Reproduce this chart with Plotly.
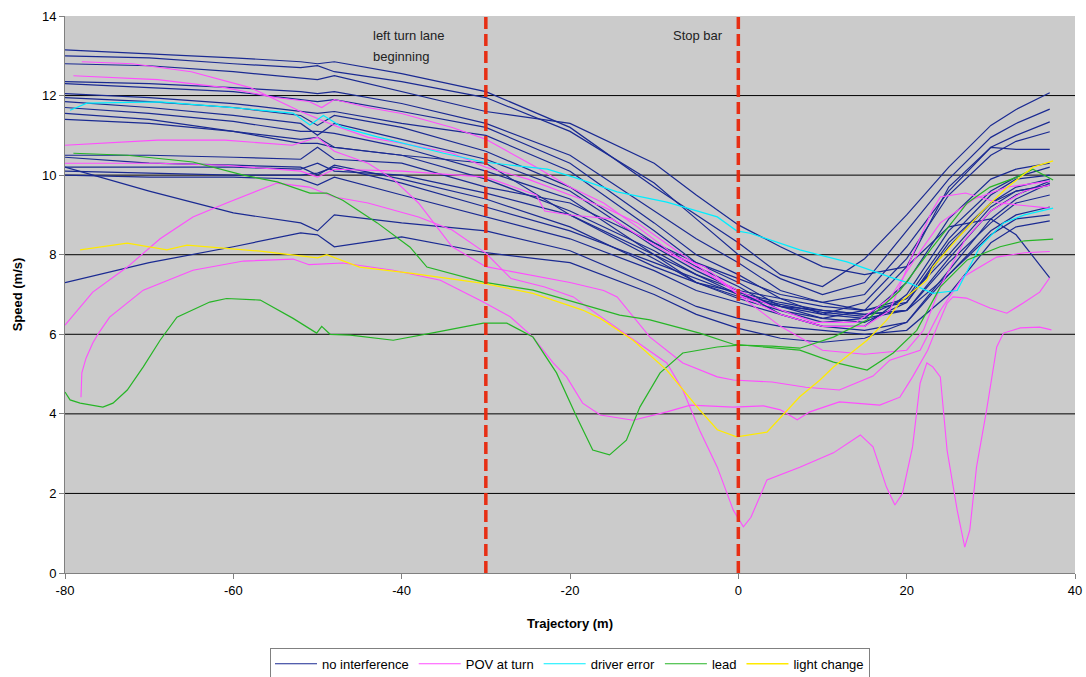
import plotly.graph_objects as go

# ---------------- data ----------------
XN = [-80, -70, -60, -52, -50, -48, -40, -30, -20, -10, -5, 0, 5, 10, 15, 20, 25, 30, 33, 37]

nav_01 = [13.15, 13.05, 12.95, 12.85, 12.8, 12.85, 12.55, 12.1, 11.2, 9.7, 9.0, 8.3, 7.5, 7.2, 7.9, 9.0, 10.2, 11.25, 11.65, 12.07]
nav_02 = [13.0, 12.95, 12.8, 12.7, 12.75, 12.6, 12.35, 11.95, 11.1, 9.8, 8.9, 8.0, 7.4, 7.0, 7.3, 8.6, 9.9, 10.95, 11.3, 11.66]
nav_03 = [12.8, 12.75, 12.6, 12.45, 12.4, 12.5, 12.1, 11.6, 11.3, 10.3, 9.5, 8.75, 8.2, 7.7, 7.5, 7.7, 8.7, 8.9, 8.5, 7.42]
nav_04 = [12.35, 12.3, 12.2, 12.1, 12.05, 12.1, 11.8, 11.3, 10.5, 9.1, 8.4, 7.8, 7.1, 6.8, 7.0, 8.2, 9.6, 10.7, 11.0, 11.34]
nav_05 = [12.3, 12.2, 12.1, 11.9, 11.85, 11.9, 11.6, 11.2, 10.3, 8.8, 8.0, 7.5, 6.9, 6.5, 6.8, 7.9, 9.5, 10.5, 10.85, 11.09]
nav_06 = [12.05, 11.95, 11.8, 11.6, 11.55, 11.6, 11.3, 11.0, 10.1, 8.6, 7.8, 7.3, 6.7, 6.4, 6.6, 7.7, 9.7, 10.7, 10.65, 10.65]
nav_07 = [11.95, 11.85, 11.7, 11.5, 11.25, 11.5, 11.2, 10.6, 9.7, 8.3, 7.7, 7.2, 6.6, 6.3, 6.4, 7.3, 8.9, 9.9, 10.15, 10.3]
nav_08 = [11.85, 11.7, 11.5, 11.3, 11.0, 11.3, 10.9, 10.4, 9.6, 8.2, 7.6, 7.1, 6.5, 6.2, 6.2, 7.0, 8.6, 9.6, 9.95, 10.2]
nav_09 = [11.7, 11.55, 11.35, 11.1, 11.1, 11.05, 10.7, 10.1, 9.4, 8.0, 7.3, 6.9, 6.6, 6.4, 6.3, 6.8, 8.2, 9.3, 9.7, 9.9]
nav_10 = [11.55, 11.4, 11.1, 10.8, 10.8, 10.7, 10.5, 10.3, 9.0, 7.9, 7.3, 6.95, 6.7, 6.5, 6.4, 6.6, 7.9, 9.1, 9.5, 9.85]
nav_11 = [11.4, 11.3, 11.1, 10.9, 10.95, 10.7, 10.5, 9.9, 9.1, 8.1, 7.5, 7.0, 6.75, 6.55, 6.45, 6.9, 8.4, 9.5, 9.9, 10.0]
nav_12 = [10.5, 10.5, 10.45, 10.4, 10.7, 10.4, 10.3, 9.7, 9.3, 8.3, 7.8, 7.4, 7.0, 6.8, 6.6, 6.9, 8.0, 9.2, 9.6, 9.75]
nav_13 = [10.45, 10.3, 10.25, 10.2, 10.0, 10.25, 9.9, 9.4, 8.7, 7.7, 7.3, 7.05, 6.8, 6.6, 6.5, 6.6, 7.5, 8.5, 8.9, 9.0]
nav_14 = [10.2, 10.2, 10.2, 10.15, 10.3, 10.1, 10.0, 9.55, 9.0, 8.0, 7.5, 7.1, 6.9, 6.7, 6.6, 6.8, 8.3, 9.3, 9.6, 9.75]
nav_15 = [10.1, 10.05, 10.0, 10.0, 10.05, 10.2, 9.8, 9.2, 8.6, 7.8, 7.4, 7.0, 6.7, 6.6, 6.5, 6.6, 7.8, 8.8, 9.3, 9.5]
nav_16 = [10.0, 9.95, 9.95, 9.9, 9.75, 9.95, 9.5, 8.95, 8.4, 7.6, 7.1, 6.8, 6.5, 6.2, 6.1, 6.3, 7.5, 8.6, 9.0, 9.2]
nav_17 = [10.2, 9.6, 9.05, 8.8, 8.6, 9.0, 8.8, 8.6, 8.1, 7.2, 6.7, 6.4, 6.2, 6.1, 6.0, 6.1, 7.0, 8.3, 8.7, 8.85]
nav_18 = [7.3, 7.8, 8.2, 8.55, 8.5, 8.2, 8.45, 8.05, 7.8, 7.0, 6.5, 6.15, 5.9, 5.8, 5.9, 6.3, 7.6, 8.9, 9.4, 9.8]

pov_a_x = [-79, -69, -61, -55, -51, -49.5, -48, -44, -40, -34, -30, -24, -20, -16, -12, -7, -1, 4, 9, 14, 18, 21, 24, 28, 32, 37]
pov_a_y = [12.5, 12.4, 12.2, 11.95, 11.85, 11.7, 11.9, 11.7, 11.55, 11.2, 10.9, 10.2, 9.7, 9.3, 8.7, 7.9, 7.2, 6.7, 6.3, 6.3, 6.9, 7.9, 8.8, 9.4, 9.7, 9.85]

pov_b_x = [-78, -72, -65, -58, -52, -48, -44, -40, -34, -30, -25, -20, -16, -12, -8, -4, 0, 5, 10, 15, 18, 20.5, 23, 24, 27, 31, 37]
pov_b_y = [12.85, 12.8, 12.6, 12.2, 11.6, 11.25, 10.95, 10.8, 10.55, 10.2, 9.9, 9.5, 9.2, 8.8, 8.2, 7.6, 7.0, 6.5, 6.2, 6.2, 6.6, 7.9, 9.1, 9.45, 9.55, 9.3, 9.17]

pov_c_x = [-80, -69, -61, -53, -50, -48, -44, -41, -38, -34, -30, -25, -20, -16, -14.4, -10.5, -6.6, -2.5, -0.6, 4, 8, 12, 16, 18, 21.6, 24, 26.7, 30.7, 34, 37]
pov_c_y = [10.75, 10.88, 10.88, 10.75, 10.95, 10.6, 10.3, 9.9, 9.3, 8.2, 7.7, 7.5, 7.3, 7.1, 6.94, 5.93, 5.28, 4.93, 4.85, 4.8, 4.67, 4.6, 4.95, 5.35, 5.6, 6.6, 7.44, 7.94, 8.05, 8.08]

pov_d_x = [-80, -69, -61, -52, -50, -48, -40, -30, -24, -23, -20, -15, -12, -8, -4, 0, 5, 10, 15, 20, 22, 24, 27, 30, 34, 37]
pov_d_y = [10.3, 10.3, 10.25, 10.1, 9.95, 10.15, 10.1, 9.95, 9.5, 9.1, 9.0, 8.9, 8.5, 8.0, 7.7, 7.0, 6.2, 5.6, 5.5, 5.6, 6.1, 7.2, 8.4, 9.1, 9.6, 9.75]

pov_e_x = [-80, -76.7, -72.6, -68.7, -64.8, -60.8, -54.8, -51, -48, -44, -38, -34, -30, -27, -23, -19.6, -18, -14.1, -8.5, -6.6, -4.6, -2.5, -0.6, 0.6, 1.5, 3.4, 7.3, 11.3, 14.5, 16, 17.6, 18.6, 19.5, 20.7, 21.6, 22.4, 23.1, 24, 24.8, 26, 26.9, 27.5, 28.3, 29.5, 30.7, 31.5, 33.5, 35.8, 37.2]
pov_e_y = [6.23, 7.06, 7.69, 8.4, 8.95, 9.3, 9.8, 9.7, 9.45, 9.3, 8.95, 8.62, 8.04, 7.4, 7.19, 6.94, 6.69, 6.11, 5.28, 4.6, 3.59, 2.66, 1.58, 1.16, 1.4, 2.34, 2.66, 3.02, 3.47, 3.17, 2.16, 1.71, 2.0, 3.17, 4.77, 5.28, 5.18, 4.93, 3.09, 1.58, 0.65, 1.08, 2.66, 4.1, 5.68, 6.03, 6.16, 6.18, 6.11]

pov_f_x = [-78.1, -78, -77.5, -76.7, -76, -74.7, -70.7, -64.8, -58.8, -52.9, -51, -47, -41, -35.4, -30.3, -27.1, -24.4, -22, -20.4, -18.5, -16.4, -12.5, -8.5, -5.7, -0.6, 3, 5, 7, 8.5, 12, 16.8, 19.2, 20.7, 22.5, 23.6, 24.8, 25.5, 27.1, 29.9, 31.9, 33.8, 35.8, 37]
pov_f_y = [4.42, 5.03, 5.4, 5.78, 6.03, 6.43, 7.11, 7.61, 7.84, 7.89, 7.75, 7.79, 7.61, 7.36, 6.81, 6.44, 5.93, 5.28, 4.93, 4.27, 3.97, 3.84, 4.05, 4.22, 4.17, 4.2, 4.1, 3.85, 4.05, 4.3, 4.22, 4.42, 4.93, 5.6, 6.18, 6.78, 6.94, 6.91, 6.66, 6.53, 6.78, 7.06, 7.42]

err_x = [-79.4, -77.4, -68.7, -60.8, -52.9, -50.9, -49.3, -47, -42.9, -39, -35, -30.3, -22.7, -19.6, -14.4, -8.5, -4.6, -2.5, -0.2, 1.4, 7.3, 12.9, 18.4, 20.4, 23.1, 26, 28.7, 31.5, 34, 37.4]
err_y = [11.63, 11.81, 11.84, 11.71, 11.56, 11.26, 11.5, 11.2, 10.96, 10.75, 10.55, 10.33, 10.15, 9.95, 9.58, 9.32, 9.08, 8.95, 8.6, 8.54, 8.12, 7.82, 7.41, 7.28, 7.03, 7.1, 8.2, 8.8, 9.0, 9.17]

lead_a_x = [-79, -72.6, -64.8, -58.8, -54.8, -50.9, -48.9, -47, -42.9, -39, -37, -30.3, -24.4, -20.4, -14.1, -10.5, -4.6, -0.6, 3, 7.3, 11.3, 15.3, 18.4, 21.2, 24, 27.2, 31.1, 34, 37.4]
lead_a_y = [10.55, 10.5, 10.33, 10.0, 9.83, 9.55, 9.55, 9.37, 8.8, 8.19, 7.69, 7.31, 7.11, 6.86, 6.48, 6.36, 6.03, 5.75, 5.68, 5.6, 5.3, 5.1, 5.53, 6.1, 7.19, 7.87, 8.2, 8.35, 8.39]

lead_b_x = [-80, -79.4, -78.2, -75.5, -74.3, -72.6, -70.7, -68.7, -66.7, -64.8, -62.8, -60.8, -56.8, -52.9, -50.1, -49.5, -48.5, -46.1, -41, -36, -30.3, -27.5, -24.4, -21.6, -19.2, -17.3, -15.3, -13.3, -11.7, -9.3, -6.6, -2.5, 0, 4, 7.3, 11.3, 15.3, 19.2, 21, 23.1, 27.2, 29.9, 33.1, 35, 37.4]
lead_b_y = [4.55, 4.35, 4.27, 4.17, 4.27, 4.6, 5.18, 5.85, 6.43, 6.61, 6.81, 6.9, 6.86, 6.4, 6.03, 6.2, 6.0, 5.98, 5.85, 6.05, 6.28, 6.28, 5.93, 5.03, 3.92, 3.09, 2.97, 3.34, 4.17, 5.03, 5.53, 5.68, 5.73, 5.7, 5.65, 5.93, 6.36, 7.1, 7.6, 8.2, 9.3, 9.7, 9.95, 10.15, 9.88]

light_x = [-78.2, -72.6, -67.9, -65.5, -56.8, -50, -48.9, -45, -39, -33.9, -30.3, -24.4, -18.5, -16.4, -12.5, -8.5, -4.6, -2.5, -0.2, 3.4, 7.3, 9.7, 11.3, 15.3, 17.6, 19.2, 22.4, 23.1, 26, 29.1, 32, 35, 37.4]
light_y = [8.12, 8.29, 8.12, 8.24, 8.09, 7.92, 8.0, 7.69, 7.54, 7.39, 7.28, 7.03, 6.61, 6.4, 5.85, 5.1, 4.1, 3.6, 3.42, 3.54, 4.43, 4.85, 5.18, 5.85, 6.35, 6.8, 7.36, 7.69, 8.4, 9.12, 9.7, 10.2, 10.36]

X_TICKS = [-80, -60, -40, -20, 0, 20, 40]
X_TICK_LABELS = ["-80", "-60", "-40", "-20", "0", "20", "40"]
Y_TICKS = [0, 2, 4, 6, 8, 10, 12, 14]
GRID_LEVELS = [2, 4, 6, 8, 10, 12]
MARKERS = [-30, 0]

NAVY = [nav_01, nav_02, nav_03, nav_04, nav_05, nav_06, nav_07, nav_08, nav_09,
        nav_10, nav_11, nav_12, nav_13, nav_14, nav_15, nav_16, nav_17, nav_18]
POV = [(pov_a_x, pov_a_y), (pov_b_x, pov_b_y), (pov_c_x, pov_c_y),
       (pov_d_x, pov_d_y), (pov_e_x, pov_e_y), (pov_f_x, pov_f_y)]
LEAD = [(lead_a_x, lead_a_y), (lead_b_x, lead_b_y)]

C_NAVY = "#1A2A92"
C_POV = "#FF4DFF"
C_ERR = "#00EEFF"
C_LEAD = "#26B526"
C_LIGHT = "#FFEA00"

fig = go.Figure()

for i, ys in enumerate(NAVY):
    fig.add_trace(go.Scatter(x=XN, y=ys, mode="lines", name="no interference",
                             legendgroup="nav", showlegend=(i == 0),
                             line=dict(color=C_NAVY, width=1.2)))
for i, (xs, ys) in enumerate(POV):
    fig.add_trace(go.Scatter(x=xs, y=ys, mode="lines", name="POV at turn",
                             legendgroup="pov", showlegend=(i == 0),
                             line=dict(color=C_POV, width=1.1)))
fig.add_trace(go.Scatter(x=err_x, y=err_y, mode="lines", name="driver error",
                         line=dict(color=C_ERR, width=1.2)))
for i, (xs, ys) in enumerate(LEAD):
    fig.add_trace(go.Scatter(x=xs, y=ys, mode="lines", name="lead",
                             legendgroup="lead", showlegend=(i == 0),
                             line=dict(color=C_LEAD, width=1.2)))
fig.add_trace(go.Scatter(x=light_x, y=light_y, mode="lines", name="light change",
                         line=dict(color=C_LIGHT, width=1.3)))

shapes = []
for g in GRID_LEVELS:
    shapes.append(dict(type="line", xref="paper", yref="y", x0=0, x1=1, y0=g, y1=g,
                       line=dict(color="black", width=1), layer="below"))
for m in MARKERS:
    shapes.append(dict(type="line", xref="x", yref="y", x0=m, x1=m, y0=0, y1=14,
                       line=dict(color="rgba(232,38,10,0.95)", width=3.5, dash="12px,5px"),
                       layer="above"))

FONT = "Liberation Sans, Arial, sans-serif"

fig.update_layout(
    width=1086, height=677,
    margin=dict(l=65, r=11, t=16, b=104, autoexpand=False),
    paper_bgcolor="white",
    plot_bgcolor="#CBCBCB",
    font=dict(family=FONT, size=13, color="black"),
    shapes=shapes,
    showlegend=True,
    legend=dict(orientation="h", x=0.5, xanchor="center", y=-0.163, yanchor="middle",
                bordercolor="#808080", borderwidth=1, bgcolor="white",
                font=dict(family=FONT, size=13), itemwidth=42),
    annotations=[
        dict(x=-43.6, y=13.52, xref="x", yref="y", text="left turn lane", showarrow=False,
             xanchor="left", yanchor="middle", font=dict(family=FONT, size=13, color="#222")),
        dict(x=-43.6, y=12.99, xref="x", yref="y", text="beginning", showarrow=False,
             xanchor="left", yanchor="middle", font=dict(family=FONT, size=13, color="#222")),
        dict(x=-8.0, y=13.52, xref="x", yref="y", text="Stop bar", showarrow=False,
             xanchor="left", yanchor="middle", font=dict(family=FONT, size=13, color="#222")),
    ],
)

fig.update_xaxes(range=[-80, 40], tickvals=X_TICKS, ticktext=X_TICK_LABELS,
                 ticks="outside", ticklen=5,
                 tickcolor="#808080", showline=True, linecolor="#808080", linewidth=1,
                 showgrid=False, zeroline=False, automargin=False, ticklabeloverflow="allow",
                 title=dict(text="<b>Trajectory (m)</b>", font=dict(size=13), standoff=22))
fig.update_yaxes(range=[0, 14], tickvals=Y_TICKS, ticks="outside", ticklen=5,
                 tickcolor="#808080", showline=True, linecolor="#808080", linewidth=1,
                 showgrid=False, zeroline=False, automargin=False, ticklabeloverflow="allow",
                 title=dict(text="<b>Speed (m/s)</b>", font=dict(size=13), standoff=16))

fig.write_html("out.html", config={"displayModeBar": False},
               post_script="document.body.style.margin='0px';document.body.style.overflow='hidden';")
